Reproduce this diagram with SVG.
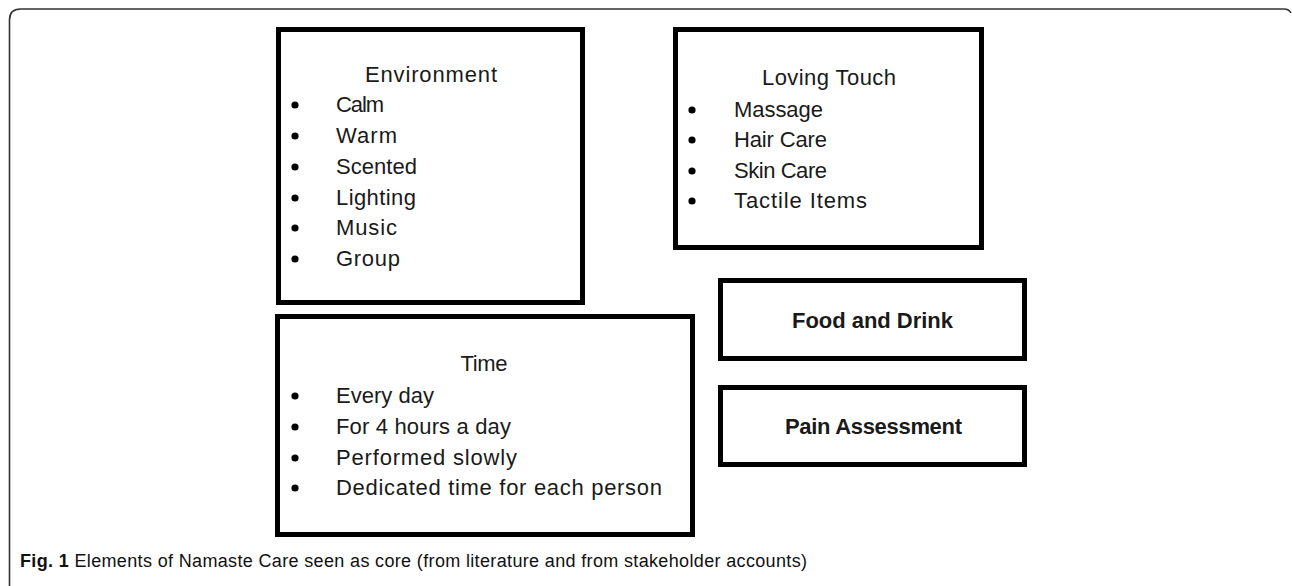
<svg xmlns="http://www.w3.org/2000/svg" width="1292" height="586" viewBox="0 0 1292 586">
<style>
.box{fill:#fff;stroke:#000;stroke-width:5}
.t{font-family:"Liberation Sans",Arial,sans-serif;font-size:22px;fill:#1a1a1a}
.h{text-anchor:middle}
.b{font-weight:bold}
.cap{font-family:"Liberation Sans",Arial,sans-serif;font-size:18px;fill:#111}
</style>
<defs>
<circle id="dot" r="3.6" fill="#000"/>
</defs>
<rect width="1292" height="586" fill="#fff"/>
<path d="M9.5,586 V20 Q9.5,9 20.5,9 H1284 Q1289,9 1291,13" fill="none" stroke="#333" stroke-width="1.6"/>

<g id="environment">
<rect class="box" x="278.5" y="29.5" width="304" height="273"/>
<text class="t h" x="431" y="82" textLength="132">Environment</text>
<use href="#dot" x="295" y="105"/><text class="t" x="336" y="112" textLength="48">Calm</text>
<use href="#dot" x="295" y="136"/><text class="t" x="336" y="143" textLength="61">Warm</text>
<use href="#dot" x="295" y="167"/><text class="t" x="336" y="174" textLength="81">Scented</text>
<use href="#dot" x="295" y="198"/><text class="t" x="336" y="205" textLength="80">Lighting</text>
<use href="#dot" x="295" y="228"/><text class="t" x="336" y="235" textLength="61">Music</text>
<use href="#dot" x="295" y="259"/><text class="t" x="336" y="266" textLength="64">Group</text>
</g>

<g id="loving-touch">
<rect class="box" x="675.5" y="29.5" width="306" height="218"/>
<text class="t h" x="829" y="85" textLength="134">Loving Touch</text>
<use href="#dot" x="692" y="110"/><text class="t" x="734" y="117" textLength="89">Massage</text>
<use href="#dot" x="692" y="140"/><text class="t" x="734" y="147" textLength="93">Hair Care</text>
<use href="#dot" x="692" y="171"/><text class="t" x="734" y="178" textLength="93">Skin Care</text>
<use href="#dot" x="692" y="201"/><text class="t" x="734" y="208" textLength="133">Tactile Items</text>
</g>

<g id="time">
<rect class="box" x="277.5" y="316.5" width="415" height="218"/>
<text class="t h" x="484" y="371" textLength="47">Time</text>
<use href="#dot" x="295" y="396"/><text class="t" x="336" y="403" textLength="98">Every day</text>
<use href="#dot" x="295" y="427"/><text class="t" x="336" y="434" textLength="175">For 4 hours a day</text>
<use href="#dot" x="295" y="458"/><text class="t" x="336" y="465" textLength="181">Performed slowly</text>
<use href="#dot" x="295" y="488"/><text class="t" x="336" y="495" textLength="326">Dedicated time for each person</text>
</g>

<g id="food-and-drink">
<rect class="box" x="720.5" y="280.5" width="304" height="78"/>
<text class="t h b" x="872.5" y="328" textLength="161">Food and Drink</text>
</g>

<g id="pain-assessment">
<rect class="box" x="720.5" y="387.5" width="304" height="77"/>
<text class="t h b" x="873.5" y="434" textLength="177">Pain Assessment</text>
</g>

<g id="connectors"/>

<text class="cap" x="20" y="567" textLength="787"><tspan font-weight="bold">Fig. 1</tspan> Elements of Namaste Care seen as core (from literature and from stakeholder accounts)</text>
</svg>
